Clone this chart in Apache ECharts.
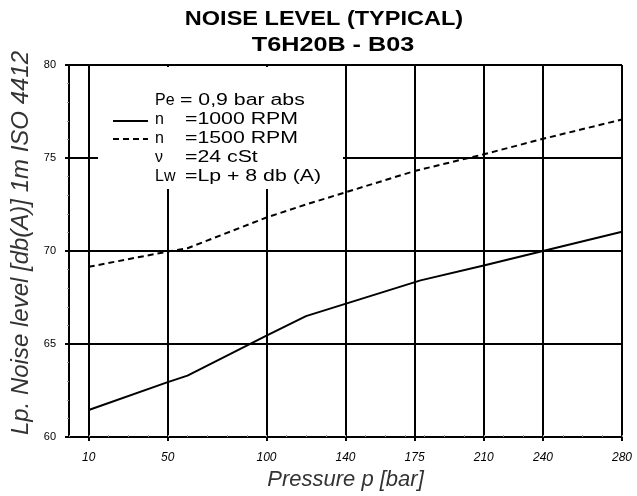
<!DOCTYPE html>
<html>
<head>
<meta charset="utf-8">
<script src="https://cdn.jsdelivr.net/npm/echarts@6/dist/echarts.min.js"></script>
<style>
  html, body { margin: 0; padding: 0; background: #fff; }
  #main { width: 637px; height: 496px; }
</style>
</head>
<body>
<div id="main"></div>
<script>
// x axis ticks (bar) and y axis range (db(A))
const pressureTicks = [10, 50, 100, 140, 175, 210, 240, 280];
const levelMin = 60, levelMax = 80;

// n = 1000 RPM (solid)
const p1000 = [10, 50, 60, 100, 120, 178, 210, 240, 280];
const lp1000 = [61.45, 62.95, 63.3, 65.45, 66.5, 68.42, 69.22, 70.0, 71.03];

// n = 1500 RPM (dashed)
const p1500 = [10, 50, 60, 100, 120, 175, 210, 240, 280];
const lp1500 = [69.15, 69.97, 70.15, 71.8, 72.5, 74.3, 75.2, 76.03, 77.07];

// note block in the upper left corner
const noteSymbols = ['Pe', 'n', 'n', 'ν', 'Lw'];
const noteValues = ['= 0,9 bar abs', '=1000 RPM', '=1500 RPM', '=24 cSt', '=Lp + 8 db (A)'];

const titleLines = ['NOISE LEVEL (TYPICAL)', 'T6H20B - B03'];

const FONT = '"Liberation Sans", Arial, sans-serif';

function pairs(xs, ys) {
    return xs.map((x, i) => [x, ys[i]]);
}

// the source text is a bit stretched sideways, hence scaleX
function label(text, x, y, font, scaleX, align) {
    return {
        type: 'text', z: 3, x: x, y: y, scaleX: scaleX || 1,
        style: {
            text: text, x: 0, y: 0, fill: '#000', font: font,
            textAlign: align || 'left', textVerticalAlign: 'middle'
        }
    };
}

let graphics = [{
    // white patch behind the notes, hides the grid
    type: 'rect', z: 1, silent: true,
    shape: {x: 98, y: 67, width: 245, height: 122},
    style: {fill: '#fff'}
}];
graphics.push(label(titleLines[0], 324, 19, 'bold 21px ' + FONT, 1.12, 'center'));
graphics.push(label(titleLines[1], 333, 45, 'bold 21px ' + FONT, 1.2, 'center'));

noteSymbols.forEach((s, i) => {
    let y = 101 + i * 19;
    graphics.push(label(s, 155, y, '16px ' + FONT));
    graphics.push(label(noteValues[i], i === 0 ? 180 : 185, y, '16px ' + FONT, 1.33));
});
graphics.push({
    type: 'line', z: 3,
    shape: {x1: 113, y1: 121, x2: 148, y2: 121},
    style: {stroke: '#000', lineWidth: 2}
});
graphics.push({
    type: 'line', z: 3,
    shape: {x1: 113, y1: 139, x2: 148, y2: 139},
    style: {stroke: '#000', lineWidth: 2, lineDash: [6, 4]}
});

let option = {
    animation: false,
    backgroundColor: '#fff',
    grid: {left: 69, right: 15, top: 65, bottom: 55, containLabel: false},
    xAxis: [{
        type: 'value', min: 0, max: 280,
        name: 'Pressure p [bar]', nameLocation: 'middle', nameGap: 32,
        nameTextStyle: {fontFamily: FONT, fontSize: 22, fontStyle: 'italic', color: '#333'},
        axisLine: {show: true, lineStyle: {color: '#000', width: 2}},
        axisTick: {show: true, customValues: pressureTicks, length: 4, lineStyle: {color: '#000', width: 2}},
        axisLabel: {customValues: pressureTicks, margin: 15, fontFamily: FONT, fontSize: 12, fontStyle: 'italic', color: '#000'},
        splitLine: {show: true, lineStyle: {color: '#000', width: 2}}
    }, {
        // minor ticks every 10 bar
        type: 'value', min: 0, max: 280, interval: 10, position: 'bottom',
        axisLine: {show: false},
        axisTick: {show: true, inside: true, length: 2, lineStyle: {color: '#999', width: 1}},
        axisLabel: {show: false},
        splitLine: {show: false}
    }],
    yAxis: {
        type: 'value', min: levelMin, max: levelMax, interval: 5,
        name: 'Lp. Noise level [db(A)] 1m ISO 4412', nameLocation: 'middle', nameGap: 32,
        nameTextStyle: {fontFamily: FONT, fontSize: 24, fontStyle: 'italic', color: '#333', padding: [0, 0, 0, 16]},
        axisLine: {show: true, lineStyle: {color: '#000', width: 2}},
        axisTick: {show: true, length: 4, lineStyle: {color: '#000', width: 2}},
        minorTick: {show: true, splitNumber: 5, length: 2, lineStyle: {color: '#999', width: 1}},
        axisLabel: {margin: 13, fontFamily: FONT, fontSize: 11, color: '#000'},
        splitLine: {show: true, lineStyle: {color: '#000', width: 2}}
    },
    graphic: graphics,
    series: [{
        name: 'n = 1000 RPM', type: 'line', data: pairs(p1000, lp1000),
        showSymbol: false, z: 2,
        lineStyle: {color: '#000', width: 2, type: 'solid'}
    }, {
        name: 'n = 1500 RPM', type: 'line', data: pairs(p1500, lp1500),
        showSymbol: false, z: 2,
        lineStyle: {color: '#000', width: 2, type: [6, 4]}
    }]
};

let myChart = echarts.init(document.getElementById('main'));
myChart.setOption(option);
</script>
</body>
</html>
